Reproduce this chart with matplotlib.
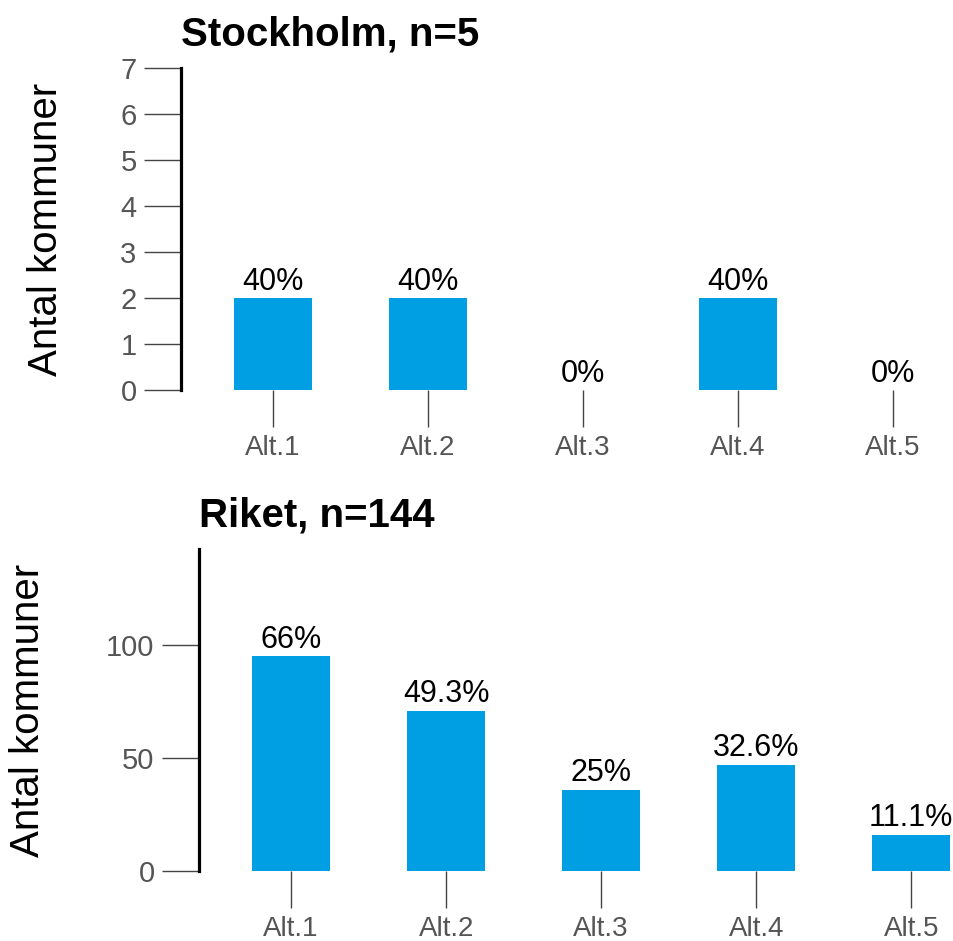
#! usr/env/python3
# Antal kommuner per alternativ, Stockholm jämfört med riket

import matplotlib
matplotlib.use("Agg")
import matplotlib.pyplot as plt

plt.rcParams['font.family'] = ['Liberation Sans', 'DejaVu Sans']

# Data
categories = ["Alt.1", "Alt.2", "Alt.3", "Alt.4", "Alt.5"]

sthlm_title = "Stockholm, n=5"
sthlm_counts = [2, 2, 0, 2, 0]
sthlm_pct = ["40%", "40%", "0%", "40%", "0%"]
sthlm_yticks = [0, 1, 2, 3, 4, 5, 6, 7]
sthlm_ymax = 7

riket_title = "Riket, n=144"
riket_counts = [95, 71, 36, 47, 16]
riket_pct = ["66%", "49.3%", "25%", "32.6%", "11.1%"]
riket_yticks = [0, 50, 100]
riket_ymax = 142.5

ylabel = "Antal kommuner"
bar_color = "#009FE3"
W, H = 954, 941

fig = plt.figure(figsize=(W / 100, H / 100), dpi=100)


def panel(rect, title, counts, pct, yticks, ymax, xmax, label_x):
    ax = fig.add_axes(rect)
    x = list(range(len(categories)))
    bars = ax.bar(x, counts, width=0.5, color=bar_color)
    for b, p in zip(bars, pct):
        ax.annotate(p, (b.get_x() + b.get_width() / 2, b.get_height()),
                    xytext=(0, 1), textcoords="offset points",
                    ha="center", va="bottom", fontsize=22, color="black")
    ax.set_xlim(-0.594, xmax)
    ax.set_ylim(0, ymax)
    ax.set_xticks(x)
    ax.set_xticklabels(categories)
    ax.set_yticks(yticks)
    for s in ["top", "right", "bottom"]:
        ax.spines[s].set_visible(False)
    ax.spines["left"].set_linewidth(2.3)
    ax.spines["left"].set_color("black")
    ax.tick_params(axis="y", length=27, width=1, color="#444444",
                   labelcolor="#555555", labelsize=21, pad=5)
    ax.tick_params(axis="x", length=26.5, width=1, color="#444444",
                   labelcolor="#555555", labelsize=20, pad=6)
    ax.set_title(title, loc="left", fontsize=29, fontweight="bold", pad=16.5)
    ax.set_ylabel(ylabel, fontsize=29)
    ax.yaxis.set_label_coords(label_x, 0.5)
    return ax


# Oberes Diagramm: Stockholm
panel([181 / W, 1 - 390 / H, 766 / W, 322 / H], sthlm_title, sthlm_counts,
      sthlm_pct, sthlm_yticks, sthlm_ymax, 4.35, -0.151)

# Unteres Diagramm: Riket
panel([199 / W, 1 - 871 / H, 751 / W, 322 / H], riket_title, riket_counts,
      riket_pct, riket_yticks, riket_ymax, 4.25, -0.2024)

fig.savefig("out.png", dpi=100)
